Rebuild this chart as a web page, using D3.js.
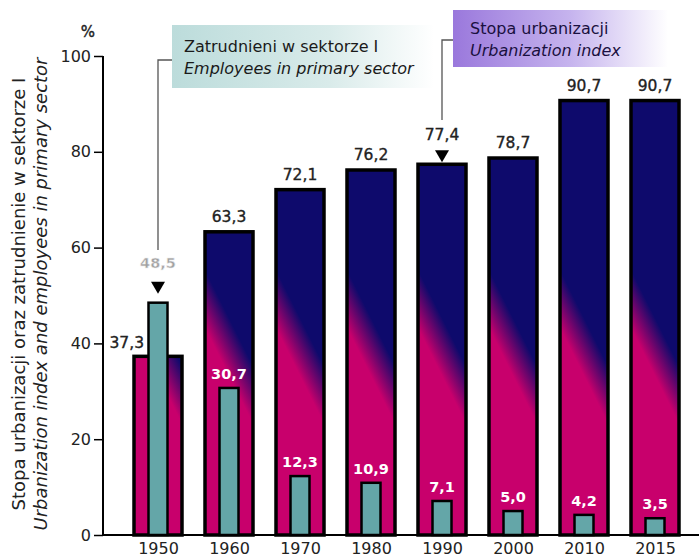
<!DOCTYPE html>
<html><head><meta charset="utf-8">
<script src="https://cdn.jsdelivr.net/npm/d3@7"></script>
<style>body{margin:0;background:#fff}svg{display:block}text{font-family:"DejaVu Sans",sans-serif}</style>
</head><body><svg id="c" width="699" height="560"></svg>
<script>
const years = ["1950","1960","1970","1980","1990","2000","2010","2015"];
const urbanization = [37.3,63.3,72.1,76.2,77.4,78.7,90.7,90.7];
const employees = [48.5,30.7,12.3,10.9,7.1,5.0,4.2,3.5];
const yTicks = [0,20,40,60,80,100];
const fmt = v => d3.format(".1f")(v).replace(".", ",");

const svg = d3.select("#c");
const x = d3.scalePoint().domain(years).range([158,655]);
const y = d3.scaleLinear().domain([0,100]).range([535,56]);
const NAVY = "#0e0a6c", PINK = "#c8006c", TEAL = "#64a6a8";
const BW = 48, TW = 19;
const FONT = "DejaVu Sans";

const defs = svg.append("defs");
const gL = defs.append("linearGradient").attr("id","gTeal");
gL.append("stop").attr("offset","0").attr("stop-color","#bcdcdb");
gL.append("stop").attr("offset","0.6").attr("stop-color","#d9ebea");
gL.append("stop").attr("offset","1").attr("stop-color","#ffffff");
const gP = defs.append("linearGradient").attr("id","gPurp");
gP.append("stop").attr("offset","0").attr("stop-color","#9a78dc");
gP.append("stop").attr("offset","0.55").attr("stop-color","#c6b4ee");
gP.append("stop").attr("offset","1").attr("stop-color","#ffffff");

// per-bar diagonal gradients (pink bottom-left -> navy top-right)
years.forEach((yr,i)=>{
  const cx = x(yr), cy = 350;
  const g = defs.append("linearGradient").attr("id","gb"+i)
    .attr("gradientUnits","userSpaceOnUse")
    .attr("x1", cx - 2*13).attr("y1", cy + 13)
    .attr("x2", cx + 2*13).attr("y2", cy - 13);
  g.append("stop").attr("offset","0").attr("stop-color",PINK);
  g.append("stop").attr("offset","0.3").attr("stop-color",PINK);
  g.append("stop").attr("offset","0.75").attr("stop-color",NAVY);
  g.append("stop").attr("offset","1").attr("stop-color",NAVY);
});

// legend boxes
svg.append("rect").attr("x",172).attr("y",25).attr("width",262).attr("height",63).attr("fill","url(#gTeal)");
svg.append("text").attr("x",184).attr("y",52).attr("font-size",16).attr("fill","#1a1a1a").text("Zatrudnieni w sektorze I");
svg.append("text").attr("x",184).attr("y",74).attr("font-size",16).attr("font-style","italic").attr("fill","#1a1a1a").text("Employees in primary sector");
svg.append("rect").attr("x",453).attr("y",10).attr("width",215).attr("height",57).attr("fill","url(#gPurp)");
svg.append("text").attr("x",470).attr("y",34).attr("font-size",16).attr("fill","#1a1040").text("Stopa urbanizacji");
svg.append("text").attr("x",470).attr("y",56).attr("font-size",16).attr("font-style","italic").attr("fill","#1a1040").text("Urbanization index");

// leader lines
svg.append("path").attr("d",`M172,60H${x("1950")}V250`).attr("fill","none").attr("stroke","#555").attr("stroke-width",1.3);
svg.append("path").attr("d",`M453,40H${x("1990")}V120`).attr("fill","none").attr("stroke","#555").attr("stroke-width",1.3);

// urbanization bars
svg.selectAll("rect.u").data(urbanization).join("rect").attr("class","u")
  .attr("x",(d,i)=>x(years[i])-BW/2).attr("width",BW)
  .attr("y",d=>y(d)).attr("height",d=>y(0)-y(d))
  .attr("fill",(d,i)=>`url(#gb${i})`).attr("stroke","#000").attr("stroke-width",3.5);

// employee bars
svg.selectAll("rect.e").data(employees).join("rect").attr("class","e")
  .attr("x",(d,i)=>x(years[i])-TW/2).attr("width",TW)
  .attr("y",d=>y(d)).attr("height",d=>y(0)-y(d))
  .attr("fill",TEAL).attr("stroke","#000").attr("stroke-width",2.5);

// urbanization labels
svg.selectAll("text.ul").data(urbanization).join("text").attr("class","ul")
  .attr("x",(d,i)=> i===0 ? x(years[i])-14 : x(years[i]))
  .attr("y",(d,i)=> i===0 ? y(d)-8 : (i===4 ? y(d)-24 : y(d)-10))
  .attr("text-anchor",(d,i)=> i===0 ? "end" : "middle")
  .attr("font-size",15.5).attr("fill","#222").attr("stroke","#222").attr("stroke-width",0.35).text(d=>fmt(d));

// employee labels
svg.selectAll("text.el").data(employees).join("text").attr("class","el")
  .attr("x",(d,i)=>x(years[i]))
  .attr("y",(d,i)=> i===0 ? y(d)-35 : y(d)-9)
  .attr("text-anchor","middle").attr("font-size",14.5).attr("font-weight",700)
  .attr("fill",(d,i)=> i===0 ? "#a0a0a0" : "#fff")
  .attr("stroke",(d,i)=> i===0 ? "#eee" : "none").attr("stroke-width",0.5)
  .text(d=>fmt(d));

// arrows
const tri = (cx, ty) => `M${cx-7},${ty}L${cx+7},${ty}L${cx},${ty+12}Z`;
svg.append("path").attr("d",tri(x("1950"), y(employees[0])-21)).attr("fill","#000");
svg.append("path").attr("d",tri(x("1990"), y(urbanization[4])-14)).attr("fill","#000");

// axes
const ya = svg.append("g").attr("transform","translate(103,0)")
  .call(d3.axisLeft(y).tickValues(yTicks).tickSize(9).tickPadding(3).tickFormat(d3.format("d")));
ya.select(".domain").attr("stroke","#000").attr("stroke-width",2).attr("d","M0,56V535");
ya.selectAll(".tick line").attr("stroke","#000").attr("stroke-width",1.5);
ya.selectAll(".tick text").attr("font-size",16).attr("fill","#222").attr("font-family",FONT);
svg.append("line").attr("x1",103).attr("x2",699).attr("y1",y(0)).attr("y2",y(0)).attr("stroke","#000").attr("stroke-width",2);

const xa = svg.append("g").attr("transform",`translate(0,${y(0)})`)
  .call(d3.axisBottom(x).tickSize(0).tickPadding(8));
xa.select(".domain").remove();
xa.selectAll(".tick text").attr("font-size",16).attr("fill","#222").attr("font-family",FONT);

svg.append("text").attr("x",88).attr("y",37).attr("text-anchor","middle").attr("font-size",15).attr("fill","#222").attr("stroke","#222").attr("stroke-width",0.4).text("%");

// y title
svg.append("text").attr("transform","translate(25,294) rotate(-90)").attr("text-anchor","middle")
  .attr("font-size",18).attr("fill","#222").text("Stopa urbanizacji oraz zatrudnienie w sektorze I");
svg.append("text").attr("transform","translate(47,294) rotate(-90)").attr("text-anchor","middle")
  .attr("font-size",18).attr("font-style","italic").attr("fill","#222").text("Urbanization index and employees in primary sector");
</script></body></html>
